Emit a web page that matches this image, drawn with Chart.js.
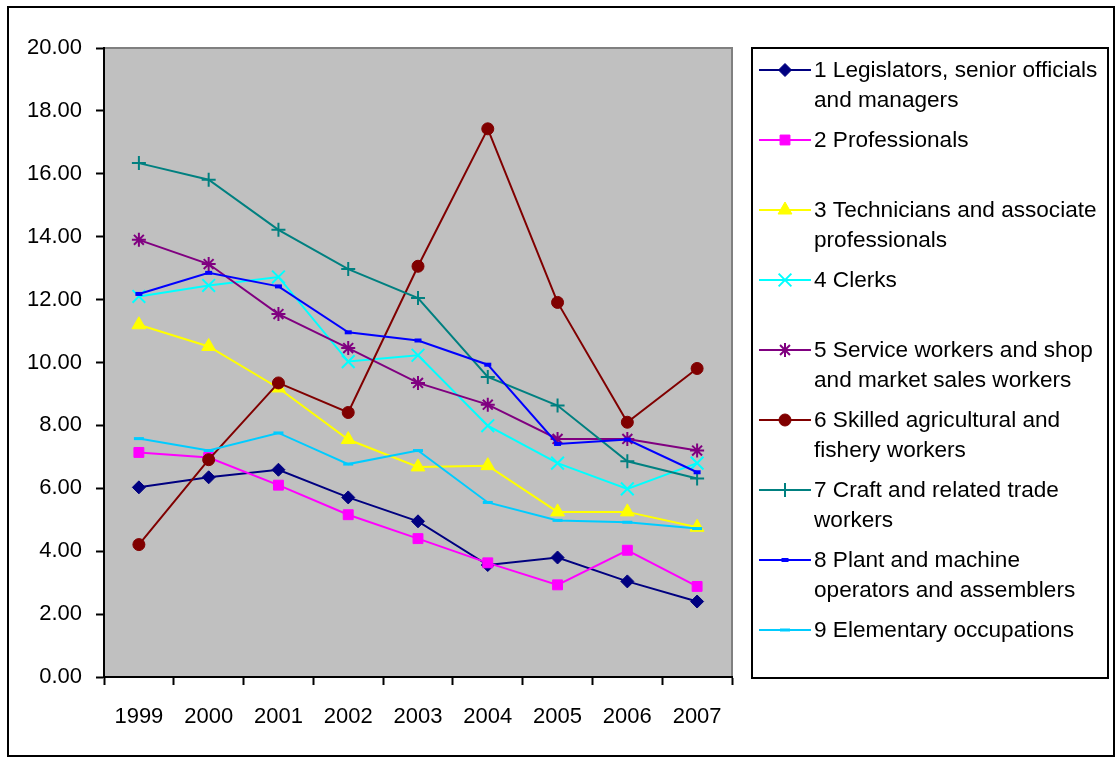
<!DOCTYPE html>
<html>
<head>
<meta charset="utf-8">
<script src="https://cdn.jsdelivr.net/npm/chart.js@4/dist/chart.umd.min.js"></script>
<style>
  html, body { margin: 0; padding: 0; background: #fff; }
  canvas { display: block; }
</style>
</head>
<body>
<canvas id="c" width="1120" height="760"></canvas>
<script>
// Categories (years)
const years = ['1999', '2000', '2001', '2002', '2003', '2004', '2005', '2006', '2007'];

// Series values per occupational group
const legislators   = [6.03, 6.35, 6.59, 5.71, 4.95, 3.56, 3.80, 3.04, 2.40];
const professionals = [7.14, 6.98, 6.10, 5.16, 4.40, 3.63, 2.93, 4.03, 2.88];
const technicians   = [11.20, 10.51, 9.19, 7.55, 6.68, 6.72, 5.25, 5.25, 4.76];
const clerks        = [12.10, 12.45, 12.72, 10.03, 10.23, 7.99, 6.80, 5.98, 6.80];
const serviceShop   = [13.90, 13.13, 11.54, 10.46, 9.35, 8.66, 7.57, 7.57, 7.20];
const agricultural  = [4.21, 6.91, 9.35, 8.41, 13.06, 17.43, 11.91, 8.10, 9.81];
const craftTrade    = [16.34, 15.81, 14.22, 12.97, 12.05, 9.54, 8.63, 6.86, 6.31];
const plantMachine  = [12.18, 12.85, 12.42, 10.96, 10.70, 9.93, 7.41, 7.55, 6.51];
const elementary    = [7.58, 7.20, 7.76, 6.77, 7.20, 5.55, 4.98, 4.92, 4.72];

// Series names (legend lines)
const seriesNames = [
  ['1 Legislators, senior officials', 'and managers'],
  ['2 Professionals'],
  ['3 Technicians and associate', 'professionals'],
  ['4 Clerks'],
  ['5 Service workers and shop', 'and market sales workers'],
  ['6 Skilled agricultural and', 'fishery workers'],
  ['7 Craft and related trade', 'workers'],
  ['8 Plant and machine', 'operators and assemblers'],
  ['9 Elementary occupations']
];

// Y axis ticks
const yMin = 0, yMax = 20, yStep = 2;

const FONT = '"Liberation Sans", Arial, sans-serif';

const seriesValues = [legislators, professionals, technicians, clerks, serviceShop,
                      agricultural, craftTrade, plantMachine, elementary];

const styles = [
  { color: '#000080', pointStyle: 'rectRot',  radius: 6.5, fill: '#000080', bw: 1 },
  { color: '#FF00FF', pointStyle: 'rect',     radius: 7,   fill: '#FF00FF', bw: 1 },
  { color: '#FFFF00', pointStyle: 'triangle', radius: 8,   fill: '#FFFF00', bw: 1 },
  { color: '#00FFFF', pointStyle: 'crossRot', radius: 9,   fill: '#00FFFF', bw: 2 },
  { color: '#800080', pointStyle: 'star',     radius: 7,   fill: '#800080', bw: 2 },
  { color: '#800000', pointStyle: 'circle',   radius: 6,   fill: '#800000', bw: 1 },
  { color: '#008080', pointStyle: 'cross',    radius: 7,   fill: '#008080', bw: 2 },
  { color: '#0000FF', pointStyle: 'line',     radius: 3.5, fill: '#0000FF', bw: 4 },
  { color: '#00CCFF', pointStyle: 'line',     radius: 5,   fill: '#00CCFF', bw: 3 }
];

const datasets = seriesValues.map((vals, i) => ({
  label: seriesNames[i].join(' '),
  data: vals,
  borderColor: styles[i].color,
  backgroundColor: styles[i].fill,
  borderWidth: 2,
  pointStyle: styles[i].pointStyle,
  pointRadius: styles[i].radius,
  pointBorderWidth: styles[i].bw,
  pointBorderColor: styles[i].color,
  pointBackgroundColor: styles[i].fill,
  tension: 0,
  order: seriesValues.length - 1 - i
}));

// Page frame, plot background and the boxed legend
const decorations = {
  id: 'decorations',
  beforeDraw(chart) {
    const ctx = chart.ctx;
    ctx.save();
    ctx.fillStyle = '#ffffff';
    ctx.fillRect(0, 0, chart.width, chart.height);
    ctx.strokeStyle = '#000';
    ctx.lineWidth = 2;
    ctx.strokeRect(8, 7, 1106, 749);
    const a = chart.chartArea;
    ctx.fillStyle = '#C0C0C0';
    ctx.fillRect(a.left, a.top, a.right - a.left, a.bottom - a.top);
    ctx.strokeStyle = '#808080';
    ctx.lineWidth = 2;
    ctx.beginPath();
    ctx.moveTo(a.left, a.top);
    ctx.lineTo(a.right, a.top);
    ctx.lineTo(a.right, a.bottom);
    ctx.stroke();
    ctx.restore();
  },
  afterDraw(chart) {
    const ctx = chart.ctx;
    ctx.save();
    const box = { x: 752, y: 48, w: 356, h: 630 };
    ctx.strokeStyle = '#000';
    ctx.lineWidth = 2;
    ctx.strokeRect(box.x, box.y, box.w, box.h);
    ctx.font = '22.6px ' + FONT;
    ctx.fillStyle = '#000';
    ctx.textBaseline = 'middle';
    ctx.textAlign = 'left';
    chart.data.datasets.forEach((ds, i) => {
      const yc = 70 + i * 70;
      ctx.strokeStyle = ds.borderColor;
      ctx.lineWidth = 2;
      ctx.beginPath();
      ctx.moveTo(759, yc);
      ctx.lineTo(811, yc);
      ctx.stroke();
      if (Chart.helpers && Chart.helpers.drawPoint) {
        ctx.fillStyle = ds.pointBackgroundColor;
        ctx.strokeStyle = ds.pointBorderColor;
        ctx.lineWidth = ds.pointBorderWidth;
        Chart.helpers.drawPoint(ctx, {
          pointStyle: ds.pointStyle,
          rotation: 0,
          radius: ds.pointRadius,
          borderWidth: ds.pointBorderWidth
        }, 785, yc);
      }
      ctx.fillStyle = '#000';
      seriesNames[i].forEach((line, k) => {
        ctx.fillText(line, 814, yc + 1 + k * 30);
      });
    });
    ctx.restore();
  }
};

new Chart(document.getElementById('c'), {
  type: 'line',
  data: { labels: years, datasets },
  options: {
    responsive: false,
    animation: false,
    layout: { padding: { left: 0, top: 48, right: 388, bottom: 0 } },
    plugins: { legend: { display: false }, tooltip: { enabled: false } },
    scales: {
      x: {
        offset: true,
        grid: {
          offset: true,
          drawOnChartArea: false,
          drawTicks: true,
          tickLength: 8,
          tickWidth: 2,
          tickColor: '#000'
        },
        border: { display: true, color: '#000', width: 2 },
        ticks: { color: '#000', font: { family: FONT, size: 22 }, padding: 19, maxRotation: 0 },
        afterFit(scale) { scale.height = 83; }
      },
      y: {
        min: yMin,
        max: yMax,
        grid: {
          drawOnChartArea: false,
          drawTicks: true,
          tickLength: 8,
          tickWidth: 2,
          tickColor: '#000'
        },
        border: { display: true, color: '#000', width: 2 },
        ticks: {
          stepSize: yStep,
          color: '#000',
          font: { family: FONT, size: 22 },
          padding: 14,
          callback: (v) => Number(v).toFixed(2)
        },
        afterFit(scale) { scale.width = 104; }
      }
    }
  },
  plugins: [decorations]
});
</script>
</body>
</html>
